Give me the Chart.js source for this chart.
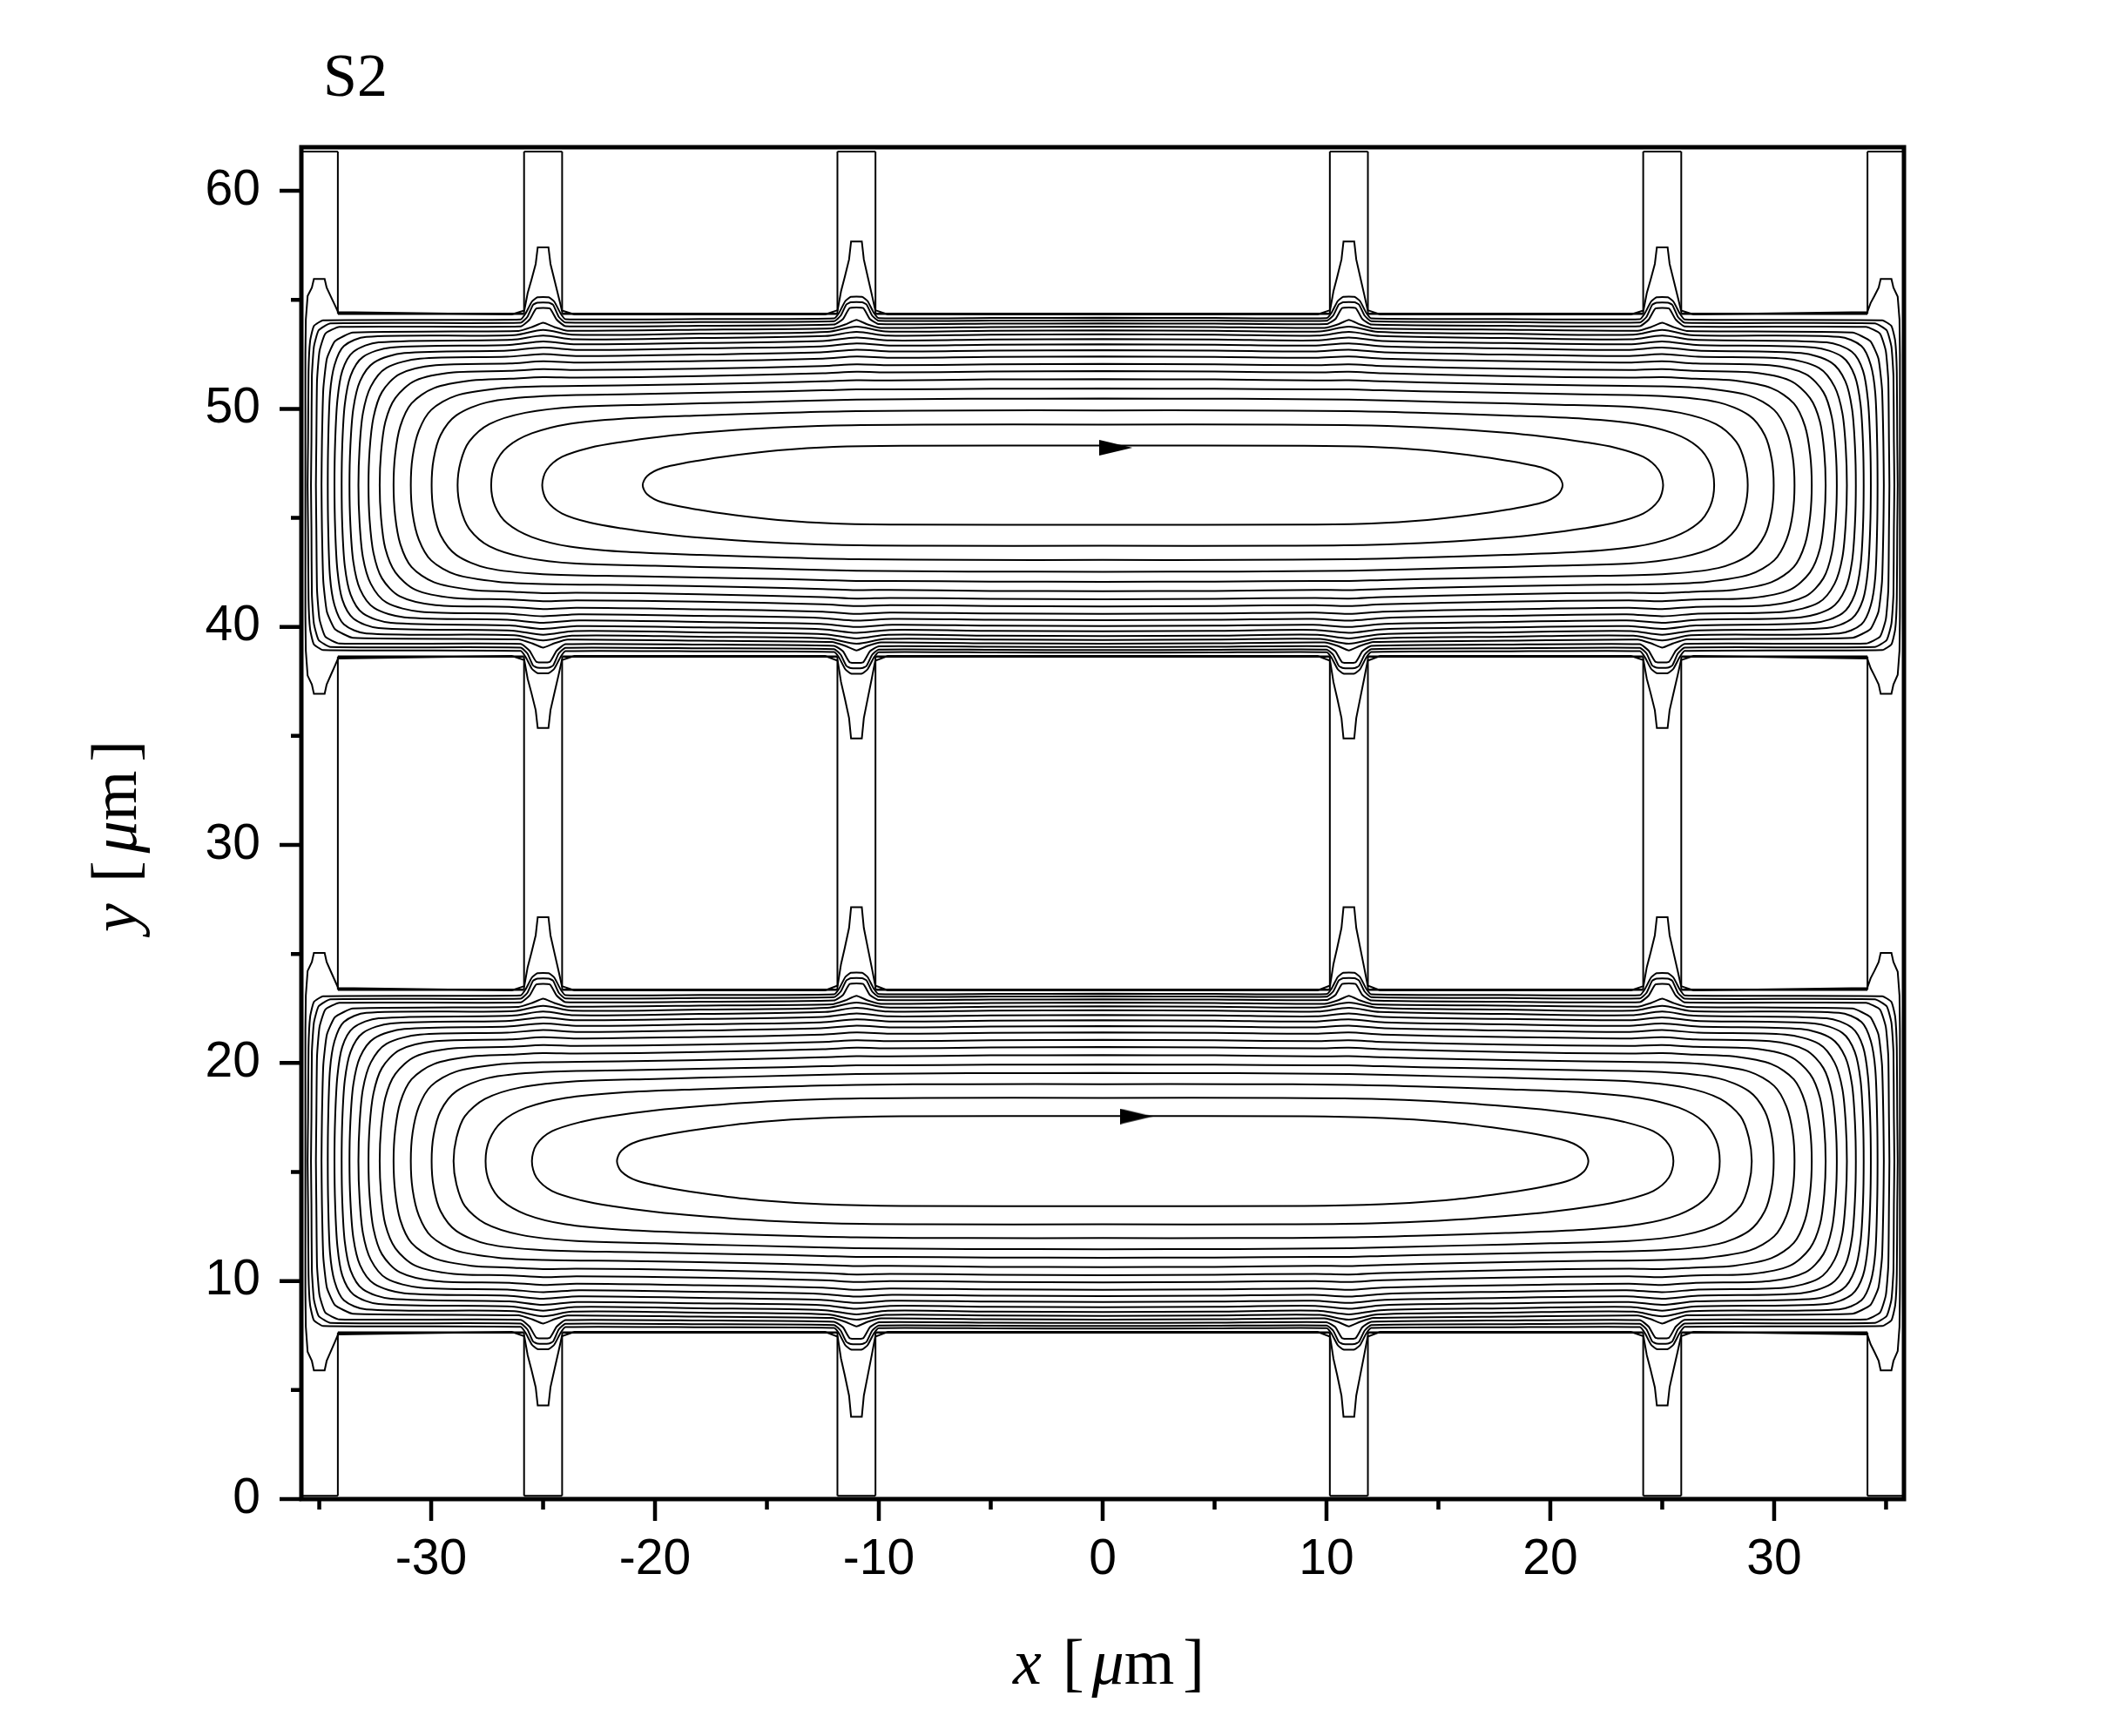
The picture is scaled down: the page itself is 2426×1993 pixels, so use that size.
<!DOCTYPE html>
<html><head><meta charset="utf-8">
<script src="https://cdn.jsdelivr.net/npm/chart.js@4/dist/chart.umd.min.js"></script>
<style>html,body{margin:0;padding:0;background:#fff;}#wrap{width:2426px;height:1993px;}</style>
</head><body><div id="wrap"><canvas id="c" width="2426" height="1993"></canvas></div>
<script>
// ---------- axes ----------
const xRange = [-35.8, 35.8];
const yRange = [0, 62];
const xMajorTicks = [-30, -20, -10, 0, 10, 20, 30];
const xMinorTicks = [-35, -25, -15, -5, 5, 15, 25, 35];
const yMajorTicks = [0, 10, 20, 30, 40, 50, 60];
const yMinorTicks = [5, 15, 25, 35, 45, 55];

// ---------- geometry of the domain (micrometres) ----------
const channelCenters = [46.5, 15.5];
const wallHalfWidth = 7.86;
const wallLevels = [54.36, 38.64, 23.36, 7.64];
const slotWalls = [-34.17, -25.85, -24.15, -11.85, -10.15, 10.15, 11.85, 24.15, 25.85, 34.17];
const capLeft = [-35.75, -25.85, -11.85, 10.15, 24.15, 34.17];
const capRight = [-34.17, -24.15, -10.15, 11.85, 25.85, 35.75];
const wallSegLeft = [-34.17, -24.15, -10.15, 11.85, 25.85];
const wallSegRight = [-25.85, -11.85, 10.15, 24.15, 34.17];
const domainTop = 61.8, domainBottom = 0.15;

// ---------- streamlines: upper-left quarter of each closed line [x, dy from channel centre] ----------
const u00 = [[-20.55,0],[-20.35,0.42],[-19.7,0.78],[-18.1,1.12],[-16.4,1.38],[-14.5,1.6],[-12,1.76],[-9,1.81],[0,1.82]];
const u01 = [[-25.04,0],[-24.84,0.7],[-24.15,1.3],[-22.9,1.72],[-21.5,1.98],[-19.7,2.23],[-18,2.41],[-15,2.62],[-12,2.74],[-8,2.78],[0,2.78]];
const u02 = [[-27.32,0],[-27.15,0.95],[-26.6,1.75],[-25.5,2.38],[-23.8,2.82],[-21.5,3.05],[-18,3.2],[-14,3.33],[-11,3.4],[-6,3.43],[0,3.43]];
const u03 = [[-28.82,0],[-28.69,1.05],[-28.3,2.0],[-27.4,2.8],[-25.8,3.32],[-23.5,3.6],[-20,3.7],[-16,3.8],[-11,3.92],[-6,3.96],[0,3.97]];
const u04 = [[-29.98,0],[-29.89,1.2],[-29.58,2.3],[-28.88,3.2],[-27.5,3.8],[-25,4.08],[-21,4.17],[-16,4.27],[-12.5,4.35],[-11,4.39],[-9.5,4.39],[-5,4.42],[0,4.43]];
const u05 = [[-30.91,0],[-30.83,1.3],[-30.55,2.5],[-30.0,3.45],[-28.9,4.1],[-27,4.43],[-25,4.53],[-21,4.58],[-16,4.67],[-12.5,4.76],[-11,4.81],[-9.5,4.8],[-5,4.85],[0,4.86]];
const u06 = [[-31.68,0],[-31.61,1.4],[-31.38,2.7],[-30.88,3.75],[-29.88,4.45],[-28.2,4.8],[-26.5,4.88],[-25,4.95],[-23.5,4.93],[-18,5.0],[-12.5,5.13],[-11,5.2],[-9.5,5.17],[-5,5.21],[0,5.23]];
const u07 = [[-32.3,0],[-32.24,1.5],[-32.05,2.9],[-31.6,4.0],[-30.7,4.8],[-29.0,5.17],[-26.5,5.24],[-25,5.32],[-23.5,5.28],[-18,5.34],[-12.5,5.46],[-11,5.54],[-9.5,5.5],[-5,5.54],[0,5.56]];
const u08 = [[-32.8,0],[-32.75,1.6],[-32.58,3.1],[-32.2,4.27],[-31.4,5.1],[-29.8,5.5],[-26.5,5.58],[-25,5.68],[-23.5,5.62],[-18,5.69],[-12.5,5.8],[-11,5.9],[-9.5,5.84],[-5,5.88],[0,5.9]];
const u09 = [[-33.25,0],[-33.2,1.7],[-33.05,3.3],[-32.7,4.52],[-32.0,5.38],[-30.5,5.8],[-26.6,5.89],[-25,6.01],[-23.4,5.92],[-18,5.99],[-12.6,6.09],[-11,6.21],[-9.4,6.13],[-5,6.17],[0,6.19]];
const u10 = [[-33.65,0],[-33.61,1.8],[-33.48,3.5],[-33.18,4.77],[-32.55,5.63],[-31.2,6.06],[-26.6,6.17],[-25,6.31],[-23.4,6.2],[-18,6.27],[-12.6,6.36],[-11,6.5],[-9.4,6.4],[-5,6.44],[0,6.46]];
const u11 = [[-34.0,0],[-33.97,1.9],[-33.86,3.7],[-33.6,5.02],[-33.05,5.88],[-31.8,6.31],[-26.5,6.43],[-25,6.59],[-23.5,6.46],[-18,6.52],[-12.5,6.61],[-11,6.77],[-9.5,6.64],[-5,6.68],[0,6.7]];
const u12 = [[-34.32,0],[-34.29,2],[-34.19,3.9],[-33.97,5.25],[-33.47,6.12],[-32.35,6.55],[-26.4,6.67],[-25,6.86],[-23.6,6.69],[-18,6.75],[-12.4,6.84],[-11,7.03],[-9.6,6.86],[-5,6.9],[0,6.92]];
const u13 = [[-34.62,0],[-34.6,2],[-34.52,4.2],[-34.32,5.5],[-33.9,6.38],[-32.9,6.8],[-26.3,6.88],[-25,7.12],[-23.7,6.9],[-18,6.95],[-12.3,7.03],[-11,7.27],[-9.7,7.05],[-5,7.08],[0,7.1]];
const u14 = [[-34.9,0],[-34.88,2],[-34.82,4.4],[-34.66,5.8],[-34.3,6.6],[-33.5,7.0],[-26.1,7.07],[-25.5,7.25],[-25,7.45],[-24.5,7.25],[-23.9,7.08],[-18,7.13],[-12.1,7.19],[-11.5,7.37],[-11,7.58],[-10.5,7.37],[-9.9,7.21],[-5,7.25],[0,7.27]];
const u15 = [[-35.15,0],[-35.13,2],[-35.1,4.8],[-34.99,6.15],[-34.73,6.95],[-34.1,7.26],[-26,7.28],[-25.6,7.6],[-25.3,8.1],[-24.7,8.1],[-24.4,7.6],[-24,7.29],[-18,7.31],[-12,7.37],[-11.6,7.62],[-11.3,8.12],[-10.7,8.12],[-10.4,7.62],[-10,7.39],[-5,7.41],[0,7.42]];
const u16 = [[-35.37,0],[-35.35,2],[-35.33,5.0],[-35.24,6.35],[-35.03,7.1],[-34.5,7.42],[-26,7.45],[-25.7,7.72],[-25.45,8.27],[-25.25,8.37],[-24.75,8.37],[-24.55,8.27],[-24.3,7.72],[-24,7.46],[-18,7.48],[-12,7.52],[-11.7,7.78],[-11.45,8.29],[-11.25,8.39],[-10.75,8.39],[-10.55,8.29],[-10.3,7.78],[-10,7.54],[-5,7.55],[0,7.56]];
const u17 = [[-35.52,0],[-35.5,2],[-35.48,5.2],[-35.41,6.6],[-35.24,7.3],[-34.83,7.56],[-26,7.6],[-25.78,7.88],[-25.5,8.42],[-25.25,8.62],[-24.75,8.62],[-24.5,8.42],[-24.22,7.88],[-24,7.61],[-18,7.62],[-12,7.65],[-11.78,7.9],[-11.5,8.44],[-11.25,8.64],[-10.75,8.64],[-10.5,8.44],[-10.22,7.9],[-10,7.66],[-5,7.67],[0,7.68]];
// lower channel: the four innermost lines are slightly larger
const l00 = [[-21.7,0],[-21.5,0.48],[-20.8,0.9],[-19.2,1.27],[-17.4,1.55],[-15.3,1.8],[-12.5,1.98],[-9,2.06],[0,2.07]];
const l01 = [[-25.5,0],[-25.3,0.75],[-24.6,1.37],[-23.3,1.8],[-21.9,2.07],[-20,2.33],[-18,2.52],[-15,2.74],[-12,2.86],[-8,2.9],[0,2.9]];
const l02 = [[-27.57,0],[-27.4,0.97],[-26.85,1.8],[-25.75,2.45],[-24,2.9],[-21.5,3.15],[-18,3.3],[-14,3.43],[-11,3.5],[-6,3.53],[0,3.53]];
const l03 = [[-29.0,0],[-28.87,1.07],[-28.5,2.05],[-27.6,2.85],[-26,3.38],[-23.5,3.67],[-20,3.77],[-16,3.87],[-11,3.99],[-6,4.03],[0,4.04]];

const upperLines = [u00,u01,u02,u03,u04,u05,u06,u07,u08,u09,u10,u11,u12,u13,u14,u15,u16,u17];
const lowerLines = [l00,l01,l02,l03,u04,u05,u06,u07,u08,u09,u10,u11,u12,u13,u14,u15,u16,u17];

// outermost line: runs along the wall and pokes into every slot
const spikeXs = [-35, -25, -11, 11, 25, 35];
const spikeDX = [-0.84, -0.69, -0.52, -0.33, -0.24, 0.24, 0.33, 0.52, 0.69, 0.84];
const spikeFrac = [0.05, 0.31, 0.51, 0.75, 1, 1, 0.75, 0.49, 0.26, 0.05];
const spikeUpperTop = [1.6, 3.05, 3.32, 3.32, 3.05, 1.6];
const spikeUpperBottom = [1.71, 3.28, 3.76, 3.76, 3.28, 1.71];
const spikeLowerTop = [1.69, 3.33, 3.78, 3.78, 3.33, 1.69];
const spikeLowerBottom = [1.74, 3.35, 3.86, 3.86, 3.35, 1.74];
const outerEnd = 35.62, outerHug = 7.83;

// flow-direction arrows
const arrowX = [0.59, 1.51];
const arrowY = [48.22, 17.55];

// ---------- build datasets ----------
const datasets = [];
function addLine(pts, opts) {
  datasets.push(Object.assign({
    data: pts, showLine: true, pointRadius: 0, pointHoverRadius: 0,
    borderColor: '#000', borderWidth: 2, tension: 0, fill: false
  }, opts || {}));
}
function closedLine(q, cy) {
  const top = q.concat(q.slice(0, -1).reverse().map(([x, y]) => [-x, y]));
  const bottom = top.slice(0, -1).reverse().map(([x, y]) => [x, -y]);
  const loop = top.concat(bottom);
  const i0 = q.length - 1;
  const rot = loop.slice(i0).concat(loop.slice(1, i0 + 1));
  return rot.map(([x, y]) => ({ x: x, y: cy + y }));
}
function outerLine(cy, topH, botH) {
  const W = wallHalfWidth;
  const side = (H, sign) => {
    const pts = [[-outerEnd, 0], [-outerEnd, 6.0], [-outerEnd + 0.02, 7.6]];
    spikeXs.forEach((xj, j) => {
      const inner = j > 0 && j < spikeXs.length - 1;
      if (inner) pts.push([xj - 1.4, outerHug]);
      spikeDX.forEach((dx, i) => {
        if (j === 0 && dx < -0.52) return;
        if (j === spikeXs.length - 1 && dx > 0.52) return;
        pts.push([xj + dx, W + spikeFrac[i] * H[j]]);
      });
      if (inner) pts.push([xj + 1.4, outerHug]);
    });
    pts.push([outerEnd - 0.02, 7.6], [outerEnd, 6.0], [outerEnd, 0]);
    return pts.map(([x, y]) => [x, sign * y]);
  };
  const top = side(topH, 1);
  const bot = side(botH, -1).reverse();
  return top.concat(bot.slice(1)).map(([x, y]) => ({ x: x, y: cy + y }));
}

upperLines.forEach((q, k) => addLine(closedLine(q, channelCenters[0]), { tension: k < 14 ? 0.3 : 0.15 }));
lowerLines.forEach((q, k) => addLine(closedLine(q, channelCenters[1]), { tension: k < 14 ? 0.3 : 0.15 }));
addLine(outerLine(channelCenters[0], spikeUpperTop, spikeUpperBottom));
addLine(outerLine(channelCenters[1], spikeLowerTop, spikeLowerBottom));

// walls of the slots and channels
slotWalls.forEach(x => {
  addLine([{ x: x, y: domainBottom }, { x: x, y: wallLevels[3] }]);
  addLine([{ x: x, y: wallLevels[2] }, { x: x, y: wallLevels[1] }]);
  addLine([{ x: x, y: wallLevels[0] }, { x: x, y: domainTop }]);
});
capLeft.forEach((xl, i) => {
  addLine([{ x: xl, y: domainTop }, { x: capRight[i], y: domainTop }]);
  addLine([{ x: xl, y: domainBottom }, { x: capRight[i], y: domainBottom }]);
});
wallLevels.forEach(yw => {
  wallSegLeft.forEach((xl, i) => addLine([{ x: xl, y: yw }, { x: wallSegRight[i], y: yw }], { borderWidth: 2.5 }));
});

// arrow heads
const arrowImg = document.createElement('canvas');
arrowImg.width = 38; arrowImg.height = 18;
(() => { const g = arrowImg.getContext('2d'); g.fillStyle = '#000'; g.beginPath(); g.moveTo(0, 0); g.lineTo(38, 9); g.lineTo(0, 18); g.closePath(); g.fill(); })();
datasets.push({
  data: arrowX.map((x, i) => ({ x: x, y: arrowY[i] })),
  showLine: false, pointStyle: arrowImg, pointRadius: 10, pointHoverRadius: 10,
  borderColor: '#000', backgroundColor: '#000'
});

// ---------- decorations: frame, ticks, titles ----------
function drawPieces(ctx, pieces, size) {
  let w = 0;
  pieces.forEach(p => {
    if (p.gap) { w += p.gap; return; }
    ctx.font = (p.it ? 'italic ' : '') + size + 'px "Liberation Serif"';
    w += ctx.measureText(p.t).width;
  });
  let x = -w / 2;
  pieces.forEach(p => {
    if (p.gap) { x += p.gap; return; }
    ctx.font = (p.it ? 'italic ' : '') + size + 'px "Liberation Serif"';
    ctx.fillText(p.t, x, 0);
    x += ctx.measureText(p.t).width;
  });
}
const unitPieces = (v) => [{ t: v, it: true }, { gap: 24 }, { t: '[' }, { gap: 9 }, { t: 'μ', it: true }, { t: 'm' }, { gap: 10 }, { t: ']' }];

const deco = {
  id: 'deco',
  afterDatasetsDraw(chart) {
    const ctx = chart.ctx, a = chart.chartArea;
    const sx = chart.scales.x, sy = chart.scales.y;
    ctx.save();
    ctx.strokeStyle = '#000'; ctx.fillStyle = '#000';
    ctx.lineWidth = 5;
    ctx.strokeRect(a.left, a.top, a.right - a.left, a.bottom - a.top);
    ctx.lineWidth = 4.5; ctx.lineCap = 'butt';
    ctx.beginPath();
    xMajorTicks.forEach(v => { const p = sx.getPixelForValue(v); ctx.moveTo(p, a.bottom); ctx.lineTo(p, a.bottom + 25); });
    xMinorTicks.forEach(v => { const p = sx.getPixelForValue(v); ctx.moveTo(p, a.bottom); ctx.lineTo(p, a.bottom + 12); });
    yMajorTicks.forEach(v => { const p = sy.getPixelForValue(v); ctx.moveTo(a.left, p); ctx.lineTo(a.left - 25, p); });
    yMinorTicks.forEach(v => { const p = sy.getPixelForValue(v); ctx.moveTo(a.left, p); ctx.lineTo(a.left - 12, p); });
    ctx.stroke();
    // panel label
    ctx.textBaseline = 'alphabetic'; ctx.textAlign = 'left';
    ctx.font = '70px "Liberation Serif"';
    ctx.fillText('S2', a.left + 25, 110);
    // x title
    ctx.save();
    ctx.translate((a.left + a.right) / 2 + 7, 1933);
    drawPieces(ctx, unitPieces('x'), 74);
    ctx.restore();
    // y title
    ctx.save();
    ctx.translate(156, (a.top + a.bottom) / 2 + 15);
    ctx.rotate(-Math.PI / 2);
    drawPieces(ctx, unitPieces('y'), 74);
    ctx.restore();
    ctx.restore();
  }
};

new Chart(document.getElementById('c'), {
  type: 'scatter',
  data: { datasets: datasets },
  options: {
    responsive: false, animation: false, devicePixelRatio: 1,
    layout: { padding: { left: 226, right: 240, top: 169, bottom: 152 } },
    plugins: { legend: { display: false }, tooltip: { enabled: false } },
    events: [],
    scales: {
      x: {
        type: 'linear', position: 'bottom', min: xRange[0], max: xRange[1],
        afterBuildTicks: s => { s.ticks = xMajorTicks.map(v => ({ value: v })); },
        afterFit: s => { s.height = 120; },
        grid: { display: false, drawTicks: false }, border: { display: false },
        ticks: { color: '#000', padding: 36, maxRotation: 0, autoSkip: false,
                 font: { family: 'Liberation Sans', size: 57 }, callback: v => String(v) }
      },
      y: {
        type: 'linear', position: 'left', min: yRange[0], max: yRange[1],
        afterBuildTicks: s => { s.ticks = yMajorTicks.map(v => ({ value: v })); },
        afterFit: s => { s.width = 120; },
        grid: { display: false, drawTicks: false }, border: { display: false },
        ticks: { color: '#000', padding: 47, autoSkip: false,
                 font: { family: 'Liberation Sans', size: 57 }, callback: v => String(v) }
      }
    }
  },
  plugins: [deco]
});
</script></body></html>
